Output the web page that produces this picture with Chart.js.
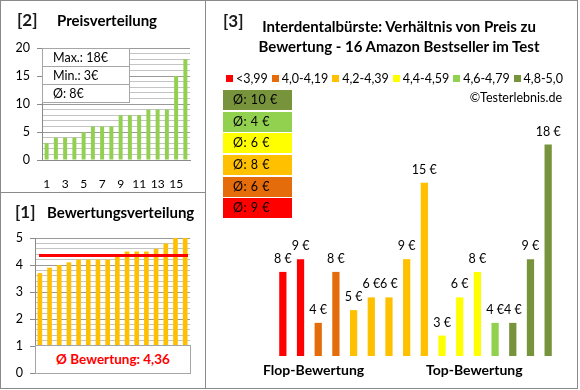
<!DOCTYPE html>
<html>
<head>
<meta charset="utf-8">
<script src="https://cdn.jsdelivr.net/npm/chart.js@4.4.1/dist/chart.umd.min.js"></script>
<style>
body { margin: 0; background: #fff; font-family: Lato, "Open Sans", sans-serif; color: #000; }
#wrap { position: relative; width: 580px; height: 390px; overflow: hidden; background: #fff; }
.abs { position: absolute; white-space: nowrap; }
.line { position: absolute; background: #8a8a8a; }
.ptitle { font-weight: bold; font-size: 15px; line-height: 18px; }
.pnum { font-weight: bold; font-size: 17px; line-height: 18px; color: #1a1a1a; }
.axtitle { font-weight: bold; font-size: 14px; line-height: 18px; }
#statBox { left: 42px; top: 48px; width: 88px; height: 55px; background: #fff; border: 1px solid #a6a6a6; box-sizing: border-box; }
#statBox div { height: 18px; line-height: 18px; padding-left: 10px; font-size: 12.5px; border-bottom: 1px solid #a6a6a6; box-sizing: border-box; }
#statBox div:last-child { border-bottom: none; }
#avgBox { left: 35px; top: 345px; width: 156px; height: 29px; background: #fff; border: 1px solid #a6a6a6; box-sizing: border-box; text-align: center; line-height: 27px; color: #ff0000; font-weight: bold; font-size: 13.5px; }
#legend { left: 226px; top: 71px; width: 337px; display: flex; justify-content: space-between; font-size: 12.5px; line-height: 15px; }
#legend span.sq { display: inline-block; width: 7px; height: 7px; margin-right: 3px; vertical-align: 1px; }
#groups { left: 223px; top: 90px; width: 69px; }
#groups div { height: 20px; line-height: 20px; margin-bottom: 1.7px; padding-left: 10px; font-size: 12.5px; letter-spacing: 0.5px; }
</style>
</head>
<body>
<div id="wrap">
  <canvas id="priceChart" class="abs" style="left:0;top:0"></canvas>
  <canvas id="ratingChart" class="abs" style="left:0;top:193px"></canvas>
  <canvas id="mainChart" class="abs" style="left:205px;top:0"></canvas>

  <div class="line" style="left:0;top:0;width:578px;height:1px"></div>
  <div class="line" style="left:0;top:388px;width:578px;height:1px"></div>
  <div class="line" style="left:0;top:0;width:1px;height:389px"></div>
  <div class="line" style="left:577px;top:0;width:1px;height:389px"></div>
  <div class="line" style="left:205px;top:0;width:1px;height:389px"></div>
  <div class="line" style="left:0;top:192px;width:205px;height:1px"></div>

  <div class="abs pnum" style="left:17px;top:11px">[2]</div>
  <div class="abs ptitle" style="left:57px;top:11px">Preisverteilung</div>
  <div id="statBox" class="abs"></div>

  <div class="abs pnum" style="left:15px;top:203px">[1]</div>
  <div class="abs ptitle" style="left:47px;top:203px">Bewertungsverteilung</div>
  <div id="avgBox" class="abs"></div>

  <div class="abs pnum" style="left:223px;top:12px">[3]</div>
  <div class="abs ptitle" style="left:249px;top:17px;width:300px;text-align:center;line-height:19.5px">Interdentalbürste: Verhältnis von Preis zu<br>Bewertung - 16 Amazon Bestseller im Test</div>
  <div id="legend" class="abs"></div>
  <div class="abs" style="right:18px;top:90px;font-size:12.5px;line-height:16px">©Testerlebnis.de</div>
  <div id="groups" class="abs"></div>
  <div class="abs axtitle" style="left:263px;top:361px">Flop-Bewertung</div>
  <div class="abs axtitle" style="left:426px;top:361px">Top-Bewertung</div>
</div>

<script>
// products sorted by rating (flop -> top)
const products = ['1', '2', '3', '4', '5', '6', '7', '8', '9', '10', '11', '12', '13', '14', '15', '16'];
const ratings = [3.7, 3.9, 4.0, 4.1, 4.2, 4.2, 4.2, 4.2, 4.3, 4.5, 4.5, 4.5, 4.6, 4.8, 5.0, 5.0];
const prices = [8, 9, 4, 8, 5, 6, 6, 9, 15, 3, 6, 8, 4, 4, 9, 18];

const ratingBins = ['<3,99', '4,0-4,19', '4,2-4,39', '4,4-4,59', '4,6-4,79', '4,8-5,0'];
const binLimits = [3.995, 4.195, 4.395, 4.595, 4.795, 5.01];
const binColors = ['#FF0000', '#E46C0A', '#FFC000', '#FFFF00', '#92D050', '#77933C'];

const priceTicks = [0, 5, 10, 15, 20];
const ratingTicks = [0, 1, 2, 3, 4, 5];

const font = 'Lato';

function binOf(r) {
    for (let i = 0; i < binLimits.length; i++) {
        if (r < binLimits[i]) return i;
    }
    return binLimits.length - 1;
}

const sortedPrices = prices.slice().sort((a, b) => a - b);
const avgPrice = prices.reduce((a, b) => a + b, 0) / prices.length;
const avgRating = ratings.reduce((a, b) => a + b, 0) / ratings.length;

// text boxes
document.getElementById('statBox').innerHTML =
    '<div>Max.: ' + Math.max(...prices) + '€</div>' +
    '<div>Min.: ' + Math.min(...prices) + '€</div>' +
    '<div>Ø: ' + Math.round(avgPrice) + '€</div>';
document.getElementById('avgBox').innerText = 'Ø Bewertung: ' + avgRating.toFixed(2).replace('.', ',');

let legend = document.getElementById('legend');
ratingBins.forEach((name, i) => {
    legend.innerHTML += '<span><span class="sq" style="background:' + binColors[i] + '"></span>' + name + '</span>';
});

let groups = document.getElementById('groups');
for (let i = ratingBins.length - 1; i >= 0; i--) {
    let vals = prices.filter((p, j) => binOf(ratings[j]) === i);
    if (!vals.length) continue;
    let avg = Math.round(vals.reduce((a, b) => a + b, 0) / vals.length);
    groups.innerHTML += '<div style="background:' + binColors[i] + '">Ø: ' + avg + ' €</div>';
}

function setSize(id, w, h) {
    let c = document.getElementById(id);
    c.width = w; c.height = h;
    c.style.width = w + 'px'; c.style.height = h + 'px';
    return c.getContext('2d');
}

const isMajor = (v, list) => list.some(t => Math.abs(t - v) < 1e-6);

// [2] Preisverteilung
new Chart(setSize('priceChart', 205, 192), {
    type: 'bar',
    data: {
        labels: products,
        datasets: [{
            data: sortedPrices,
            backgroundColor: '#92D050',
            barPercentage: 0.43,
            categoryPercentage: 1
        }]
    },
    options: {
        responsive: false,
        animation: false,
        layout: { padding: { top: 48, right: 15, left: 0, bottom: 0 } },
        plugins: { legend: { display: false }, tooltip: { enabled: false } },
        scales: {
            y: {
                min: 0, max: 20,
                afterFit: s => { s.width = 42; },
                ticks: {
                    stepSize: 1,
                    autoSkip: false,
                    font: { family: font, size: 12.5 },
                    color: '#000',
                    padding: 7,
                    callback: v => isMajor(v, priceTicks) ? v : ''
                },
                grid: {
                    color: c => isMajor(c.tick.value, priceTicks) ? '#9a9a9a' : '#c4c4c4',
                    tickColor: c => isMajor(c.tick.value, priceTicks) ? '#8a8a8a' : 'rgba(0,0,0,0)',
                    tickLength: 5
                },
                border: { color: '#8a8a8a' }
            },
            x: {
                afterFit: s => { s.height = 32; },
                grid: { display: false },
                border: { color: '#8a8a8a' },
                ticks: {
                    autoSkip: false,
                    maxRotation: 0,
                    padding: 9,
                    font: { family: font, size: 12 },
                    color: '#000',
                    callback: (v, i) => i % 2 === 0 ? products[i] : ''
                }
            }
        }
    }
});

// [1] Bewertungsverteilung
const avgLine = {
    id: 'avgLine',
    afterDatasetsDraw(chart) {
        let ctx = chart.ctx, a = chart.chartArea;
        let y = chart.scales.y.getPixelForValue(avgRating);
        ctx.save();
        ctx.strokeStyle = '#FF0000';
        ctx.lineWidth = 3;
        ctx.beginPath();
        ctx.moveTo(a.left + 4, y);
        ctx.lineTo(a.right - 2, y);
        ctx.stroke();
        ctx.restore();
    }
};

new Chart(setSize('ratingChart', 205, 195), {
    type: 'bar',
    data: {
        labels: products,
        datasets: [{
            data: ratings,
            backgroundColor: '#FFC000',
            barPercentage: 0.48,
            categoryPercentage: 1
        }]
    },
    options: {
        responsive: false,
        animation: false,
        layout: { padding: { top: 45, right: 15, left: 0, bottom: 15 } },
        plugins: { legend: { display: false }, tooltip: { enabled: false } },
        scales: {
            y: {
                min: 0, max: 5,
                afterFit: s => { s.width = 35; },
                ticks: {
                    stepSize: 0.2,
                    autoSkip: false,
                    font: { family: font, size: 12.5 },
                    color: '#000',
                    padding: 7,
                    callback: v => isMajor(v, ratingTicks) ? Math.round(v) : ''
                },
                grid: {
                    color: c => isMajor(c.tick.value, ratingTicks) ? '#9a9a9a' : '#c4c4c4',
                    tickColor: c => isMajor(c.tick.value, ratingTicks) ? '#8a8a8a' : 'rgba(0,0,0,0)',
                    tickLength: 5
                },
                border: { color: '#8a8a8a' }
            },
            x: { display: false }
        }
    },
    plugins: [avgLine]
});

// [3] Preis zu Bewertung
const valueLabels = {
    id: 'valueLabels',
    afterDatasetsDraw(chart) {
        let ctx = chart.ctx;
        ctx.save();
        ctx.font = '12.5px ' + font;
        ctx.fillStyle = '#000';
        ctx.textAlign = 'center';
        ctx.textBaseline = 'middle';
        chart.getDatasetMeta(0).data.forEach((bar, i) => {
            ctx.fillText(prices[i] + ' €', bar.x, bar.y - 13);
        });
        ctx.restore();
    }
};

new Chart(setSize('mainChart', 372, 388), {
    type: 'bar',
    data: {
        labels: products,
        datasets: [{
            data: prices,
            backgroundColor: ratings.map(r => binColors[binOf(r)]),
            barPercentage: 0.41,
            categoryPercentage: 1
        }]
    },
    options: {
        responsive: false,
        animation: false,
        layout: { padding: { top: 119, right: 20, left: 69, bottom: 32 } },
        plugins: { legend: { display: false }, tooltip: { enabled: false } },
        scales: {
            y: { display: false, min: 1.4, max: 20 },
            x: { display: false }
        }
    },
    plugins: [valueLabels]
});
</script>
</body>
</html>
